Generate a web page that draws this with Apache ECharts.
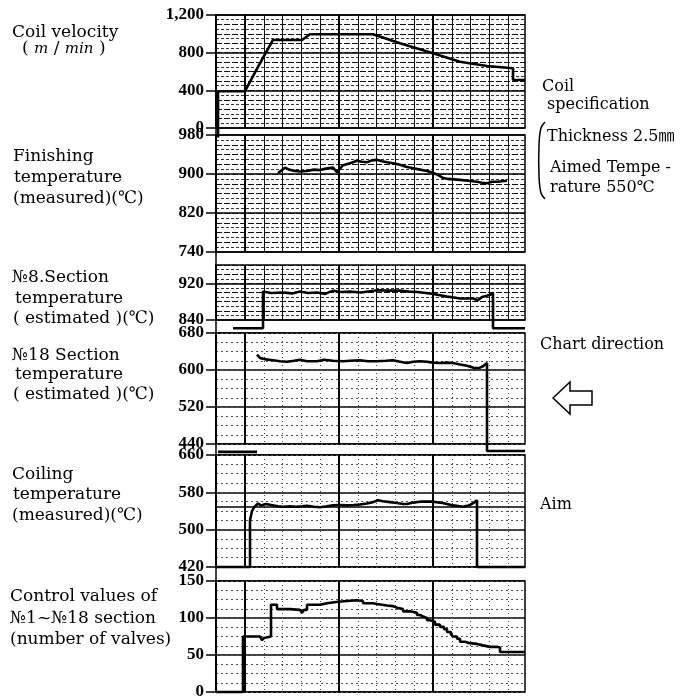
<!DOCTYPE html>
<html lang="en">
<head>
<meta charset="UTF-8">
<title>Coil cooling chart</title>
<script src="https://cdn.jsdelivr.net/npm/echarts@6/dist/echarts.min.js"></script>
<style>html,body{margin:0;padding:0;background:#fff}</style>
</head>
<body>
<div id="main" style="width:685px;height:697px;"></div>
<script>
// x = position along the chart paper (arbitrary time units, 0 = left edge)
var coilVelocity = [[2,-100],[2,390],[29,392],[42,650],[57,935],[86,935],[94,995],[157,995],[184,899],[217,793],[244,704],[271,658],[297,634],[297,510],[309,510]];
var finishingTemp = [[62,902],[66,908],[69,913],[73,909],[77,907],[84,905],[91,906],[98,909],[104,908],[110,911],[117,913],[121,904],[127,918],[134,922],[141,927],[146,925],[151,924],[156,928],[161,929],[166,926],[171,924],[177,922],[184,919],[190,915],[197,912],[204,909],[211,906],[216,903],[221,899],[226,893],[231,890],[238,889],[244,888],[252,886],[261,884],[266,882],[271,881],[276,884],[281,884],[286,885],[291,886]];
var section8Temp = [[17,822],[47,822],[47,902],[55,899],[67,900],[76,898],[84,902],[92,899],[101,900],[109,897],[117,904],[125,901],[134,902],[145,900],[161,905],[172,904],[184,904],[193,902],[201,901],[210,899],[217,897],[224,894],[231,891],[238,889],[244,887],[251,887],[257,887],[262,883],[266,890],[271,893],[274,895],[277,899],[277,822],[309,822]];
var section18Base = [[2,423],[41,423]];
var section18Temp = [[41,633],[44,626],[50,623],[57,621],[64,619],[71,618],[78,620],[84,622],[91,619],[101,619],[108,622],[117,620],[127,619],[134,620],[144,621],[152,619],[161,619],[170,620],[177,621],[184,618],[191,615],[197,618],[204,619],[211,618],[217,616],[224,615],[231,616],[237,615],[244,612],[251,609],[256,606],[259,604],[264,605],[267,608],[271,615],[271,425],[309,425]];
var coilingTemp = [[0,420],[34,420],[34,520],[36,540],[38,548],[42,556],[45,552],[47,549],[50,555],[52,557],[55,553],[57,552],[62,550],[67,549],[74,550],[80,549],[86,550],[91,551],[98,549],[104,548],[111,550],[117,552],[124,553],[131,552],[138,553],[144,554],[151,556],[157,559],[162,563],[167,561],[174,559],[181,557],[187,555],[191,555],[197,558],[204,560],[211,560],[217,560],[224,558],[231,555],[237,552],[244,550],[247,549],[251,551],[254,553],[258,558],[261,563],[261,420],[309,420]];
var coilingAim = 550;
var controlValves = [[0,0],[27,0],[27,75],[44,75],[46,70],[48,73],[50,75],[55,77],[55,118],[61,118],[61,112],[74,111],[84,111],[86,107],[88,111],[91,118],[104,120],[111,122],[122,123],[131,124],[141,123],[147,120],[154,120],[157,119],[161,117],[171,116],[177,114],[181,112],[187,109],[194,107],[201,104],[204,102],[207,100],[211,97],[214,95],[219,91],[224,88],[228,85],[231,81],[235,78],[237,75],[241,72],[244,68],[249,66],[254,65],[261,63],[267,61],[274,61],[281,60],[284,59],[284,54],[309,54]];

// tick labels of each panel
var velocityTicks = [0, 400, 800, 1200];
var finishingTicks = [740, 820, 900, 980];
var section8Ticks = [840, 920];
var section18Ticks = [440, 520, 600, 680];
var coilingTicks = [420, 500, 580, 660];
var valveTicks = [0, 50, 100, 150];

var panels = [
    {top: 15,  height: 113, min: 0,   max: 1200, fine: 100,  ticks: velocityTicks,  data: coilVelocity,  dense: true},
    {top: 135, height: 117, min: 740, max: 980,  fine: 20,   ticks: finishingTicks, data: finishingTemp, dense: true},
    {top: 265, height: 55,  min: 840, max: 960,  fine: 20,   ticks: section8Ticks,  data: section8Temp,  dense: true},
    {top: 333, height: 111, min: 440, max: 680,  fine: 20,   ticks: section18Ticks, data: section18Temp},
    {top: 455, height: 112, min: 420, max: 660,  fine: 20,   ticks: coilingTicks,   data: coilingTemp},
    {top: 581, height: 111, min: 0,   max: 150,  fine: 12.5, ticks: valveTicks,     data: controlValves, step: 'end'}
];

// paper ruling (vertical lines)
var fineX = [];
for (var t = 29; t < 309; t += 18.8) fineX.push(+t.toFixed(1));
var heavyX = [29, 123, 217];

var grids = [], xAxes = [], yAxes = [], series = [];
var lineStyle = {color: '#000', width: 2.6};

panels.forEach(function (p, i) {
    grids.push({left: 216, width: 309, top: p.top, height: p.height, show: true,
        borderColor: '#000', borderWidth: 1.5, backgroundColor: '#fff', outerBoundsMode: 'none'});
    var vLine = p.dense ? {color: '#111', width: 1} : {color: '#444', width: 1, type: [1, 3]};
    xAxes.push({gridIndex: i, type: 'value', min: 0, max: 309,
        axisLine: {show: false}, axisLabel: {show: false},
        axisTick: {show: false, customValues: fineX},
        splitLine: {show: true, lineStyle: vLine}});
    xAxes.push({gridIndex: i, type: 'value', min: 0, max: 309,
        axisLine: {show: false}, axisLabel: {show: false},
        axisTick: {show: false, customValues: heavyX},
        splitLine: {show: true, lineStyle: {color: '#000', width: 2}}});
    yAxes.push({gridIndex: i, type: 'value', min: p.min, max: p.max, position: 'left',
        axisLine: {show: true, lineStyle: {color: '#000', width: 1.5}},
        axisTick: {show: true, length: 10, customValues: p.ticks, lineStyle: {color: '#000', width: 1.5}},
        axisLabel: {customValues: p.ticks, color: '#000', fontFamily: 'Liberation Serif',
            fontWeight: 'bold', fontSize: 17, margin: 12},
        splitLine: {show: true, lineStyle: {color: '#000', width: 1.5}}});
    yAxes.push({gridIndex: i, type: 'value', min: p.min, max: p.max, interval: p.fine, position: 'left',
        axisLine: {show: false}, axisTick: {show: false}, axisLabel: {show: false},
        splitLine: {show: true, lineStyle: p.dense ? {color: '#111', width: 1, type: [6, 2]} : {color: '#555', width: 1, type: [2, 3]}},
        minorTick: {show: false, splitNumber: 2},
        minorSplitLine: {show: !!p.dense, lineStyle: {color: '#333', width: 1, type: [3, 2]}}});
    series.push({type: 'line', xAxisIndex: 2 * i, yAxisIndex: 2 * i, data: p.data,
        step: p.step || false, symbol: 'none', clip: false, lineStyle: lineStyle, z: 5});
});

series.push({type: 'line', xAxisIndex: 6, yAxisIndex: 6, data: section18Base,
    symbol: 'none', clip: false, lineStyle: lineStyle, z: 5});
series[4].markLine = {symbol: 'none', silent: true, label: {show: false},
    lineStyle: {color: '#000', width: 1.5, type: 'solid'}, data: [{yAxis: coilingAim}]};

var font = '17px "DejaVu Serif", "Noto Sans CJK JP", serif';
var fontR = '16px "DejaVu Serif", "Noto Sans CJK JP", serif';
function txt(s, x, y, f, extra) {
    var st = {text: s, x: x, y: y, font: f || font, fill: '#000', verticalAlign: 'middle'};
    for (var k in extra) st[k] = extra[k];
    return {type: 'text', style: st, z: 10};
}

var graphics = [
    txt('Coil velocity', 12, 33),
    txt('( {i|m} / {i|min} )', 22, 49, null, {rich: {i: {font: 'italic 15px "DejaVu Serif", serif'}}}),
    txt('Finishing', 13, 157),
    txt('temperature', 14, 178),
    txt('(measured)(℃)', 13, 199),
    txt('№8.Section', 12, 278),
    txt('temperature', 15, 299),
    txt('( estimated )(℃)', 13, 319),
    txt('№18 Section', 12, 356),
    txt('temperature', 15, 375),
    txt('( estimated )(℃)', 13, 395),
    txt('Coiling', 12, 475),
    txt('temperature', 13, 495),
    txt('(measured)(℃)', 12, 516),
    txt('Control values of', 10, 597),
    txt('№1~№18 section', 10, 619),
    txt('(number of valves)', 10, 640),
    txt('Coil', 542, 87, fontR),
    txt('specification', 547, 105, fontR),
    txt('Thickness 2.5㎜', 547, 137, fontR),
    txt('Aimed Tempe -', 550, 168, fontR),
    txt('rature 550℃', 550, 188, fontR),
    txt('Chart direction', 540, 345, fontR),
    txt('Aim', 540, 505, fontR),
    // continuous left edge of the paper
    {type: 'line', shape: {x1: 216, y1: 15, x2: 216, y2: 692}, style: {stroke: '#000', lineWidth: 1.5}},
    {type: 'polyline', shape: {points: [[545, 122], [541, 128], [539, 145], [539, 176], [541, 193], [545, 199]], smooth: 0.4},
        style: {stroke: '#000', lineWidth: 1.5, fill: null}},
    {type: 'polygon', shape: {points: [[553, 398], [570, 382], [570, 391], [592, 391], [592, 405], [570, 405], [570, 414]]},
        style: {stroke: '#000', lineWidth: 1.5, fill: '#fff'}}
];

var myChart = echarts.init(document.getElementById('main'));
myChart.setOption({
    animation: false,
    backgroundColor: '#fff',
    grid: grids,
    xAxis: xAxes,
    yAxis: yAxes,
    series: series,
    graphic: graphics
});
</script>
</body>
</html>
